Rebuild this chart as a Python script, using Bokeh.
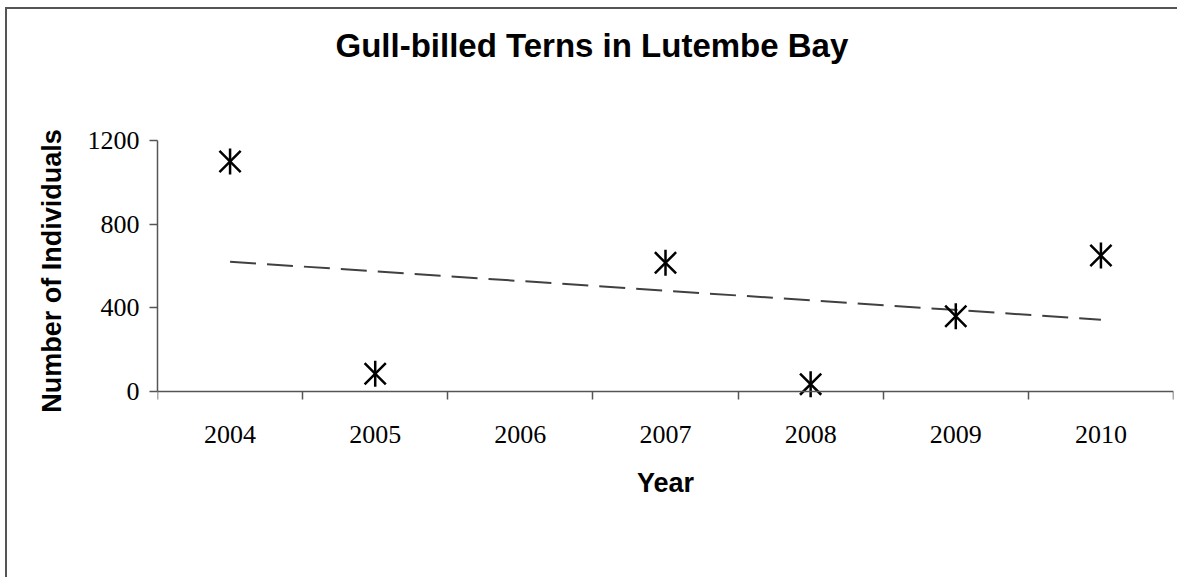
from bokeh.plotting import figure
from bokeh.models import Range1d, FixedTicker, Title, LinearAxis
from bokeh.embed import file_html
from bokeh.resources import INLINE
import numpy as np

# ---- data ----
years = ["2004", "2005", "2006", "2007", "2008", "2009", "2010"]
obs_years = ["2004", "2005", "2007", "2008", "2009", "2010"]
counts = [1100, 85, 615, 35, 360, 650]
y_ticks = [0, 400, 800, 1200]
title_text = "Gull-billed Terns in Lutembe Bay"

# category positions (1..7) as Excel uses for a category axis
pos = [years.index(y) + 1 for y in obs_years]
slope, intercept = np.polyfit(pos, counts, 1)
trend_x = [1, len(years)]
trend_y = [slope * x + intercept for x in trend_x]

AX = "#555555"

p = figure(
    width=1172, height=570,
    x_range=Range1d(0.5, len(years) + 0.5),
    y_range=Range1d(-48, 1200),
    output_backend="svg", toolbar_location=None,
    min_border_left=150, min_border_right=6,
    min_border_top=131, min_border_bottom=178,
    background_fill_color="white", border_fill_color="white",
    outline_line_color=None,
    styles={"border-top": "2px solid #555555", "border-left": "2px solid #555555",
            "margin-left": "5px", "margin-top": "7px"},
)

# chart title (outermost in the top panel), shifted to be centred on the chart area
p.title = Title(text=title_text, align="left", offset=178, standoff=10,
                text_font="Liberation Sans", text_font_style="bold",
                text_font_size="33px", text_color="black")
# blank spacer between the frame and the title
p.add_layout(Title(text=" ", text_font_size="1px", standoff=69), "above")

p.xgrid.visible = False
p.ygrid.visible = False

cat_ticks = list(range(1, len(years) + 1))
bounds_ticks = [i + 0.5 for i in range(len(years) + 1)]

# label axis at the frame bottom: year labels and title only
xb = p.xaxis[0]
xb.ticker = FixedTicker(ticks=cat_ticks, minor_ticks=[])
xb.major_label_overrides = {i + 1: y for i, y in enumerate(years)}
xb.axis_line_color = None
xb.major_tick_line_color = None
xb.minor_tick_line_color = None
xb.major_label_text_font = "Liberation Serif"
xb.major_label_text_font_size = "26px"
xb.major_label_text_color = "black"
xb.major_label_standoff = 18
xb.axis_label = "Year"
xb.axis_label_text_font = "Liberation Sans"
xb.axis_label_text_font_style = "bold"
xb.axis_label_text_font_size = "27px"
xb.axis_label_text_color = "black"
xb.axis_label_standoff = 22

# axis line at y = 0 with tick marks between categories
xa = LinearAxis(fixed_location=0,
                ticker=FixedTicker(ticks=cat_ticks, minor_ticks=bounds_ticks))
xa.major_label_overrides = {i + 1: "" for i in range(len(years))}
xa.major_label_text_font_size = "1px"
xa.major_label_standoff = 0
xa.major_tick_out = 0
xa.major_tick_in = 0
xa.minor_tick_out = 8
xa.minor_tick_in = 0
xa.minor_tick_line_color = AX
xa.minor_tick_line_width = 1.5
xa.axis_line_color = AX
xa.axis_line_width = 1.5
p.add_layout(xa, "below")

ya = p.yaxis[0]
ya.ticker = FixedTicker(ticks=y_ticks, minor_ticks=[])
ya.bounds = (0, 1200)
ya.major_tick_out = 8
ya.major_tick_in = 0
ya.major_tick_line_color = AX
ya.major_tick_line_width = 1.5
ya.axis_line_color = AX
ya.axis_line_width = 1.5
ya.major_label_text_font = "Liberation Serif"
ya.major_label_text_font_size = "26px"
ya.major_label_text_color = "black"
ya.major_label_standoff = 10
ya.axis_label = "Number of Individuals"
ya.axis_label_text_font = "Liberation Sans"
ya.axis_label_text_font_style = "bold"
ya.axis_label_text_font_size = "27px"
ya.axis_label_text_color = "black"
ya.axis_label_standoff = 18

# linear trend line
p.line(trend_x, trend_y, line_dash="26 11", line_color="#404040", line_width=2)

# asterisk markers (vertical stroke + two diagonals)
p.scatter(pos, counts, marker="x", size=30, line_color="black", line_width=2.5)
p.scatter(pos, counts, marker="dash", angle=np.pi / 2, size=26,
          line_color="black", line_width=2.5)

open("out.html", "w").write(file_html(p, INLINE))
